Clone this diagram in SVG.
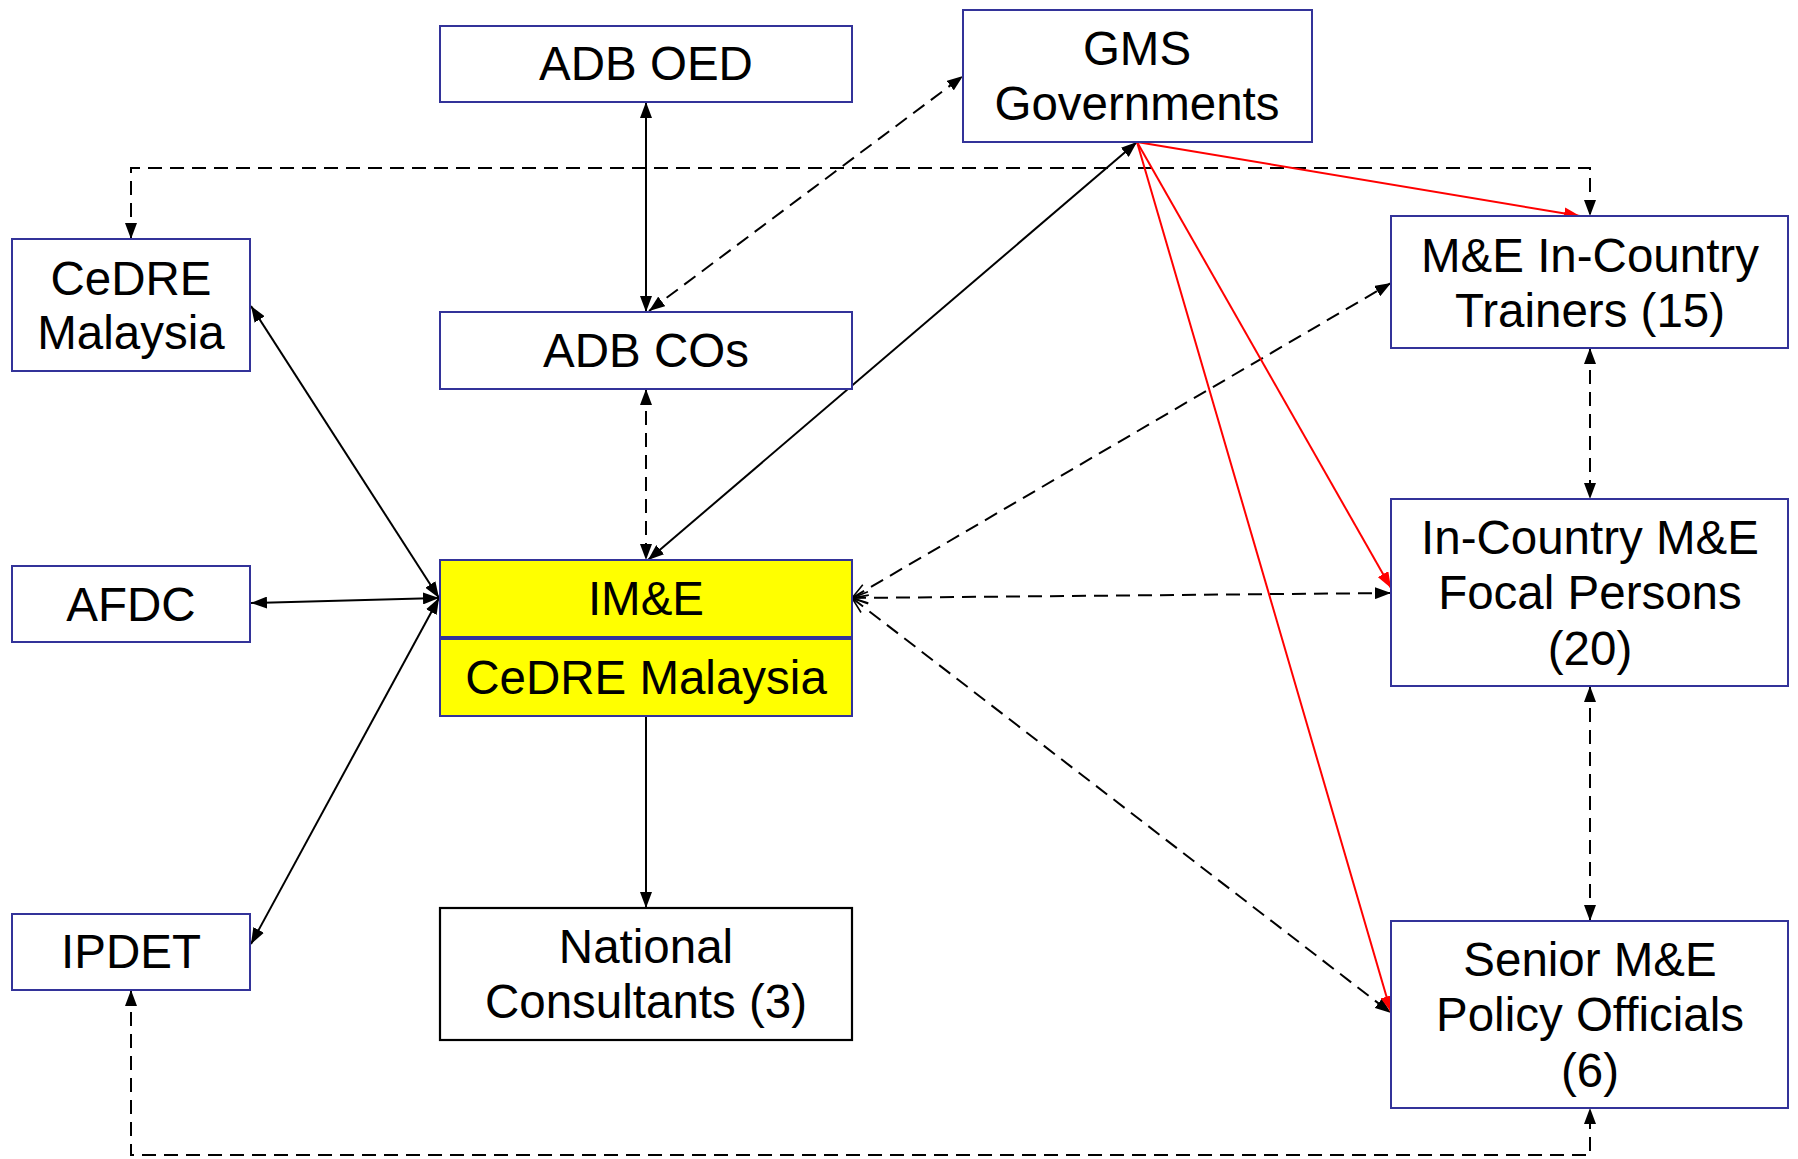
<svg xmlns="http://www.w3.org/2000/svg" width="1798" height="1159" viewBox="0 0 1798 1159">
<style>
.box{fill:#ffffff;stroke:#333399;stroke-width:2}
.yel{fill:#ffff00;stroke:#333399;stroke-width:2}
.blk{fill:#ffffff;stroke:#000000;stroke-width:2.2}
text{font-family:"Liberation Sans",Arial,sans-serif;font-size:47.5px;fill:#000;text-anchor:middle}
.c{fill:none;stroke:#000;stroke-width:2}
.d{fill:none;stroke:#000;stroke-width:2;stroke-dasharray:14,8}
.r{fill:none;stroke:#ff0000;stroke-width:2}
</style>
<defs>
<marker id="a" viewBox="0 0 16 12" refX="16" refY="6" markerWidth="16" markerHeight="12" markerUnits="userSpaceOnUse" orient="auto-start-reverse"><path d="M0,0 L16,6 L0,12 z" fill="#000"/></marker>
<marker id="ar" viewBox="0 0 16 12" refX="16" refY="6" markerWidth="16" markerHeight="12" markerUnits="userSpaceOnUse" orient="auto"><path d="M0,0 L16,6 L0,12 z" fill="#ff0000"/></marker>
<marker id="o" viewBox="-1 -1 18 14" refX="16" refY="6" markerWidth="18" markerHeight="14" markerUnits="userSpaceOnUse" orient="auto-start-reverse"><path d="M0,0 L16,6 L0,12" fill="none" stroke="#000" stroke-width="1.6"/></marker>
</defs>
<g id="connectors">
<path class="c" d="M646,102 L646,312" marker-start="url(#a)" marker-end="url(#a)"/>
<path class="d" d="M646,389 L646,560" marker-start="url(#a)" marker-end="url(#a)"/>
<path class="d" d="M649,311 L963,76" marker-start="url(#a)" marker-end="url(#a)"/>
<path class="c" d="M648,560 L1137,142" marker-start="url(#a)" marker-end="url(#a)"/>
<path class="c" d="M251,306 L439,598" marker-start="url(#a)" marker-end="url(#a)"/>
<path class="c" d="M251,603 L439,598" marker-start="url(#a)" marker-end="url(#a)"/>
<path class="c" d="M251,944 L439,598" marker-start="url(#a)" marker-end="url(#a)"/>
<path class="c" d="M646,716 L646,908" marker-end="url(#a)"/>
<path class="d" d="M131,239 L131,168 L1590,168 L1590,216" marker-start="url(#a)" marker-end="url(#a)"/>
<path class="d" d="M131,990 L131,1155 L1590,1155 L1590,1108" marker-start="url(#a)" marker-end="url(#a)"/>
<path class="d" d="M1590,348 L1590,499" marker-start="url(#a)" marker-end="url(#a)"/>
<path class="d" d="M1590,686 L1590,921" marker-start="url(#a)" marker-end="url(#a)"/>
<path class="d" d="M852,598 L1391,283" marker-start="url(#o)" marker-end="url(#a)"/>
<path class="d" d="M852,598 L1391,593" marker-start="url(#o)" marker-end="url(#a)"/>
<path class="d" d="M852,598 L1391,1013" marker-start="url(#o)" marker-end="url(#a)"/>
<path class="r" d="M1137,142 L1580,216" marker-end="url(#ar)"/>
<path class="r" d="M1137,142 L1391,588" marker-end="url(#ar)"/>
<path class="r" d="M1137,142 L1391,1012" marker-end="url(#ar)"/>
</g>
<g id="adb-oed"><rect class="box" x="440" y="26" width="412" height="76"/><text x="646" y="80">ADB OED</text></g>
<g id="gms"><rect class="box" x="963" y="10" width="349" height="132"/><text x="1137" y="65">GMS</text><text x="1137" y="120">Governments</text></g>
<g id="cedre-left"><rect class="box" x="12" y="239" width="238" height="132"/><text x="131" y="295">CeDRE</text><text x="131" y="349">Malaysia</text></g>
<g id="adb-cos"><rect class="box" x="440" y="312" width="412" height="77"/><text x="646" y="367">ADB COs</text></g>
<g id="trainers"><rect class="box" x="1391" y="216" width="397" height="132"/><text x="1590" y="272">M&amp;E In-Country</text><text x="1590" y="327">Trainers (15)</text></g>
<g id="afdc"><rect class="box" x="12" y="566" width="238" height="76"/><text x="131" y="621">AFDC</text></g>
<g id="ime"><rect class="yel" x="440" y="560" width="412" height="77"/><text x="646" y="615">IM&amp;E</text></g>
<g id="cedre-yellow"><rect class="yel" x="440" y="639" width="412" height="77"/><text x="646" y="694">CeDRE Malaysia</text></g>
<g id="focal"><rect class="box" x="1391" y="499" width="397" height="187"/><text x="1590" y="554">In-Country M&amp;E</text><text x="1590" y="609">Focal Persons</text><text x="1590" y="665">(20)</text></g>
<g id="ipdet"><rect class="box" x="12" y="914" width="238" height="76"/><text x="131" y="968">IPDET</text></g>
<g id="national"><rect class="blk" x="440" y="908" width="412" height="132"/><text x="646" y="963">National</text><text x="646" y="1018">Consultants (3)</text></g>
<g id="senior"><rect class="box" x="1391" y="921" width="397" height="187"/><text x="1590" y="976">Senior M&amp;E</text><text x="1590" y="1031">Policy Officials</text><text x="1590" y="1087">(6)</text></g>
</svg>
